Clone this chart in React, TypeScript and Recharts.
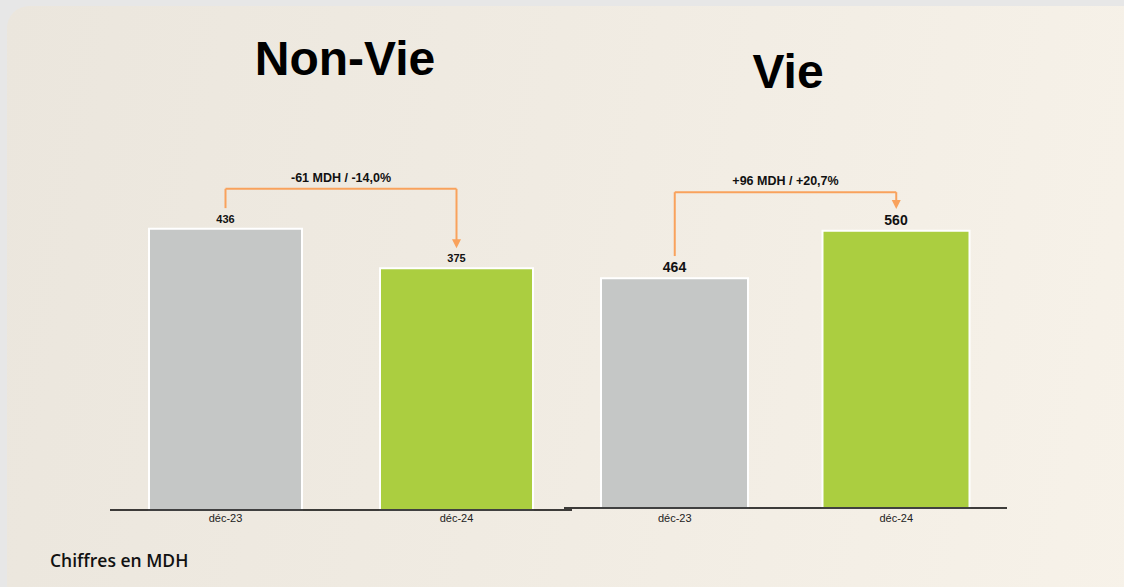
import { BarChart, Bar, XAxis, YAxis, LabelList, Cell, ReferenceLine } from "recharts";

const categories = ["déc-23", "déc-24"];
const nonVieValues = [436, 375];
const vieValues = [464, 560];
const nonVieDelta = "-61 MDH / -14,0%";
const vieDelta = "+96 MDH / +20,7%";

const barColors = ["#c5c7c6", "#abce40"];
const ORANGE = "#f9a25c";

const nonVieData = categories.map((c, i) => ({ name: c, value: nonVieValues[i] }));
const vieData = categories.map((c, i) => ({ name: c, value: vieValues[i] }));

const PlainLine = (props: any) => (
  <line x1={props.x1} y1={props.y1} x2={props.x2} y2={props.y2} stroke={ORANGE} strokeWidth={2} />
);

// vertical segment ending in a small downward arrowhead
const ArrowLine = (props: any) => {
  const { x1, y1, x2, y2 } = props;
  return (
    <g>
      <line x1={x1} y1={y1} x2={x2} y2={y2 - 7} stroke={ORANGE} strokeWidth={2} />
      <polygon points={`${x2 - 4.5},${y2 - 9} ${x2 + 4.5},${y2 - 9} ${x2},${y2}`} fill={ORANGE} />
    </g>
  );
};

const tickStyle = { fontSize: 11, fill: "#222", fontFamily: "Liberation Sans, Arial, sans-serif" };
const deltaLabel = { position: "top" as const, offset: 7, fontSize: 12.5, fontWeight: 700, fill: "#111" };

export default function App() {
  return (
    <div
      style={{
        position: "absolute",
        left: 0,
        top: 0,
        width: 1124,
        height: 587,
        background: "#e7e7e7",
        overflow: "hidden",
        fontFamily: "Liberation Sans, Arial, sans-serif",
      }}
    >
      <div
        style={{
          position: "absolute",
          left: 7,
          top: 6,
          width: 1140,
          height: 600,
          borderRadius: 22,
          background: "linear-gradient(100deg, #ebe6dd 0%, #f0ebe2 45%, #f7f2e9 100%)",
        }}
      />
      <div style={{ position: "absolute", left: 0, top: 31, width: 690, textAlign: "center", fontSize: 48, fontWeight: 700, color: "#000" }}>
        Non-Vie
      </div>
      <div style={{ position: "absolute", left: 688, top: 44, width: 200, textAlign: "center", fontSize: 48, fontWeight: 700, color: "#000" }}>
        Vie
      </div>

      <div style={{ position: "absolute", left: 0, top: 0 }}>
        <BarChart width={600} height={540} data={nonVieData} margin={{ top: 123, right: 28, left: 110, bottom: 0 }}>
          <XAxis
            dataKey="name"
            height={30}
            tickLine={false}
            tickSize={3}
            tickMargin={1}
            axisLine={{ stroke: "#000", strokeWidth: 1.5 }}
            tick={tickStyle}
          />
          <YAxis hide domain={[0, 600]} />
          <Bar dataKey="value" barSize={153} stroke="#fff" strokeWidth={2} isAnimationActive={false}>
            {nonVieData.map((d, i) => (
              <Cell key={d.name} fill={barColors[i]} />
            ))}
            <LabelList dataKey="value" position="top" offset={6} style={{ fontSize: 11, fontWeight: 700, fill: "#111" }} />
          </Bar>
          <ReferenceLine segment={[{ x: categories[0], y: 468 }, { x: categories[0], y: 498 }]} shape={PlainLine} />
          <ReferenceLine
            segment={[{ x: categories[0], y: 498 }, { x: categories[1], y: 498 }]}
            shape={PlainLine}
            label={{ value: nonVieDelta, ...deltaLabel }}
          />
          <ReferenceLine segment={[{ x: categories[1], y: 498 }, { x: categories[1], y: 406 }]} shape={ArrowLine} />
        </BarChart>
      </div>

      <div style={{ position: "absolute", left: 500, top: 0 }}>
        <BarChart width={540} height={538} data={vieData} margin={{ top: 112, right: 33, left: 64, bottom: 0 }}>
          <XAxis
            dataKey="name"
            height={30}
            tickLine={false}
            tickSize={3}
            tickMargin={3}
            axisLine={{ stroke: "#000", strokeWidth: 1.5 }}
            tick={tickStyle}
          />
          <YAxis hide domain={[0, 800]} />
          <Bar dataKey="value" barSize={147} stroke="#fff" strokeWidth={2} isAnimationActive={false}>
            {vieData.map((d, i) => (
              <Cell key={d.name} fill={barColors[i]} />
            ))}
            <LabelList dataKey="value" position="top" offset={6} style={{ fontSize: 14, fontWeight: 700, fill: "#111" }} />
          </Bar>
          <ReferenceLine segment={[{ x: categories[0], y: 509 }, { x: categories[0], y: 638 }]} shape={PlainLine} />
          <ReferenceLine
            segment={[{ x: categories[0], y: 638 }, { x: categories[1], y: 638 }]}
            shape={PlainLine}
            label={{ value: vieDelta, ...deltaLabel }}
          />
          <ReferenceLine segment={[{ x: categories[1], y: 638 }, { x: categories[1], y: 604 }]} shape={ArrowLine} />
        </BarChart>
      </div>

      <div style={{ position: "absolute", left: 50, top: 548, fontFamily: "'Open Sans', sans-serif", fontWeight: 600, fontSize: 17.5, color: "#111" }}>
        Chiffres en MDH
      </div>
    </div>
  );
}
